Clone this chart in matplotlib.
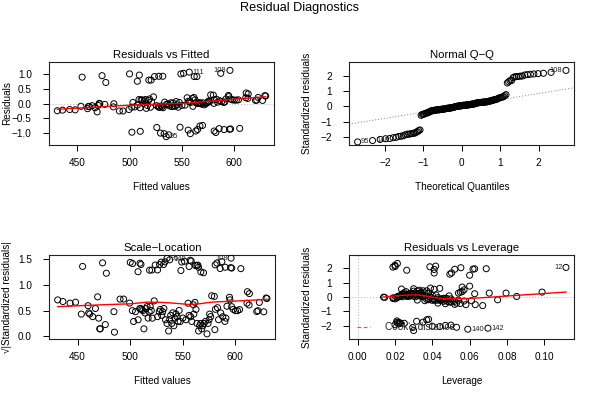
import numpy as np
import matplotlib
matplotlib.use("Agg")
import matplotlib.pyplot as plt
from matplotlib.ticker import FuncFormatter
from statistics import NormalDist

plt.rcParams['font.family'] = ['Liberation Sans', 'DejaVu Sans']

# ---------------- data ----------------
# observations with large positive residuals
upper_fitted = [454.7, 473.7, 477.3, 500.0, 507.4, 509.3, 518.4, 520.6, 523.8, 527.9,
                531.7, 549.0, 551.6, 557.0, 561.8, 564.3, 587.1, 595.9]
upper_resid = [0.90, 0.95, 0.72, 1.01, 0.76, 0.97, 0.80, 0.80, 0.92, 0.93,
               0.93, 1.01, 1.03, 1.07, 0.92, 0.92, 1.03, 1.13]
upper_lev = [0.0263, 0.1116, 0.060, 0.0189, 0.0494, 0.0553, 0.041, 0.0503, 0.0618, 0.0627,
             0.0689, 0.0387, 0.0418, 0.020, 0.041, 0.052, 0.0201, 0.0213]

# observations with large negative residuals
lower_fitted = [502.2, 510.2, 526.0, 529.5, 533.0, 535.0, 537.5, 548.2, 556.0, 558.0,
                563.3, 564.9, 567.2, 569.7, 580.8, 582.4, 585.5, 590.3, 595.5, 596.5, 605.2]
lower_resid = [-0.97, -0.94, -0.81, -1.00, -1.02, -1.12, -1.06, -0.80, -0.90, -1.02,
               -0.93, -0.88, -0.76, -0.74, -0.93, -0.98, -0.85, -0.88, -0.87, -0.86, -0.84]
lower_lev = [0.040, 0.047, 0.0316, 0.053, 0.0295, 0.030, 0.059, 0.021, 0.022, 0.0698,
             0.020, 0.023, 0.037, 0.038, 0.050, 0.044, 0.021, 0.025, 0.0215, 0.0225, 0.035]

# the central band of observations
mid_fitted = [431.0, 436.0, 442.8, 448.0, 453.5, 459.9, 460.5, 461.5, 464.3, 466.9,
              469.0, 470.0, 471.0, 471.5, 476.3, 484.5, 485.0, 490.3, 493.7, 499.4,
              502.0, 503.2, 505.0, 507.5, 509.0, 510.0, 511.0, 512.0, 513.0, 514.0,
              515.0, 516.0, 517.0, 518.0, 519.0, 520.0, 521.0, 522.8, 526.0, 527.6,
              528.5, 530.0, 530.8, 532.0, 533.5, 535.0, 536.5, 537.5, 538.5, 539.5,
              540.5, 541.5, 542.5, 543.5, 544.5, 545.5, 546.5, 547.5, 550.0, 553.0,
              555.0, 556.0, 557.5, 558.5, 560.0, 560.5, 561.5, 562.5, 563.5, 565.0,
              566.0, 567.0, 568.0, 569.0, 570.0, 571.5, 573.0, 574.0, 575.0, 575.5,
              576.5, 577.5, 580.0, 580.5, 581.0, 583.0, 584.0, 586.0, 588.0, 590.0,
              591.0, 592.0, 594.4, 594.8, 596.5, 598.0, 600.0, 602.0, 604.0, 611.4,
              613.3, 611.0, 613.0, 620.3, 621.5, 622.8, 627.0, 629.2, 630.0]
mid_resid = [-0.24, -0.22, -0.20, -0.21, -0.09, -0.17, -0.10, -0.09, -0.07, -0.14,
             -0.28, -0.06, 0.01, -0.01, -0.025, -0.11, -0.003, -0.25, -0.25, -0.20,
             -0.12, 0.04, -0.11, -0.05, 0.14, -0.14, 0.13, 0.12, 0.01, 0.10,
             0.14, -0.16, -0.06, 0.11, 0.16, -0.12, 0.06, 0.23, -0.07, -0.11,
             -0.13, -0.08, -0.11, -0.14, 0.05, -0.03, -0.005, -0.05, -0.08, 0.03,
             -0.10, 0.02, -0.06, -0.09, 0.07, -0.04, -0.12, 0.04, -0.06, -0.05,
             0.20, 0.08, 0.07, 0.04, 0.18, -0.09, 0.21, 0.13, 0.03, 0.005,
             0.02, 0.03, 0.01, -0.02, 0.03, -0.04, 0.001, 0.03, 0.05, 0.09,
             0.07, 0.30, 0.29, 0.008, 0.13, 0.15, 0.05, 0.10, 0.07, 0.04,
             0.06, 0.16, 0.28, 0.24, 0.16, 0.13, 0.12, 0.12, 0.13, 0.36,
             0.33, 0.20, 0.18, 0.11, 0.12, 0.21, 0.11, 0.27, 0.26]
mid_lev = [0.052, 0.047, 0.043, 0.055, 0.038, 0.050, 0.032, 0.045, 0.041, 0.048,
           0.067, 0.020, 0.024, 0.0145, 0.019, 0.044, 0.0139, 0.058, 0.063, 0.053,
           0.036, 0.027, 0.042, 0.019, 0.031, 0.046, 0.029, 0.034, 0.022, 0.025,
           0.036, 0.049, 0.040, 0.028, 0.055, 0.051, 0.023, 0.033, 0.043, 0.047,
           0.057, 0.044, 0.040, 0.052, 0.026, 0.021, 0.039, 0.048, 0.037, 0.030,
           0.054, 0.027, 0.045, 0.075, 0.032, 0.046, 0.061, 0.035, 0.050, 0.038,
           0.030, 0.024, 0.029, 0.033, 0.056, 0.041, 0.037, 0.054, 0.022, 0.035,
           0.0852, 0.026, 0.031, 0.043, 0.028, 0.047, 0.039, 0.023, 0.034, 0.027,
           0.042, 0.039, 0.044, 0.021, 0.0795, 0.025, 0.036, 0.031, 0.027, 0.049,
           0.040, 0.0988, 0.030, 0.057, 0.034, 0.0705, 0.028, 0.033, 0.038, 0.060,
           0.056, 0.032, 0.026, 0.0627, 0.029, 0.035, 0.024, 0.0235, 0.041]

sigma = 0.49  # residual standard error of the model

# labelled cases: label -> (group, position in that group)
case_labels = {"12": ("upper", 1), "111": ("upper", 13), "108": ("upper", 17),
               "95": ("lower", 5), "140": ("lower", 6), "142": ("lower", 9)}

# ---------------- derived quantities ----------------
fitted = np.array(upper_fitted + lower_fitted + mid_fitted)
resid = np.array(upper_resid + lower_resid + mid_resid)
lev = np.array(upper_lev + lower_lev + mid_lev)
offs = {"upper": 0, "lower": len(upper_fitted)}
case_idx = {k: offs[g] + i for k, (g, i) in case_labels.items()}

std = resid / (sigma * np.sqrt(1 - lev))
sl = np.sqrt(np.abs(std))
n = len(std)
order = np.argsort(std)
theo = np.array([NormalDist().inv_cdf((i - 0.5) / n) for i in range(1, n + 1)])
qq_x = np.empty(n)
qq_x[order] = theo


def lowess(x, y, f=2/3, iters=3):
    o = np.argsort(x, kind="mergesort")
    x = np.asarray(x, float)[o]
    y = np.asarray(y, float)[o]
    m = len(x)
    r = int(np.ceil(f * m))
    rob = np.ones(m)
    yest = np.zeros(m)
    for _ in range(iters + 1):
        for i in range(m):
            d = np.abs(x - x[i])
            h = np.sort(d)[r - 1]
            u = np.clip(d / max(h, 1e-12), 0, 1)
            w = (1 - u ** 3) ** 3 * rob
            sw = w.sum()
            xm = (w * x).sum() / sw
            ym = (w * y).sum() / sw
            den = (w * (x - xm) ** 2).sum()
            b = (w * (x - xm) * (y - ym)).sum() / den if den > 1e-12 else 0.0
            yest[i] = ym + b * (x[i] - xm)
        res = y - yest
        s = np.median(np.abs(res))
        if s <= 0:
            break
        u = np.clip(res / (6 * s), -1, 1)
        rob = (1 - u ** 2) ** 2
    return x, yest


def rpad(lo, hi):
    d = (hi - lo) * 0.04
    return lo - d, hi + d


def extend(lo, hi, f=0.08):
    d = (hi - lo) * f
    return lo - d, hi + d


W, H = 600, 400
fig = plt.figure(figsize=(6, 4), dpi=100)
fs_tick = 7.2
fs_lab = 7.2
fs_cap = 8.2
fs_id = 5.4
grey = "#bebebe"


def make_ax(left_px, top_px, right_px, bottom_px):
    ax = fig.add_axes([left_px / W, 1 - bottom_px / H,
                       (right_px - left_px) / W, (bottom_px - top_px) / H])
    for s in ax.spines.values():
        s.set_linewidth(0.8)
        s.set_color("#222222")
    ax.tick_params(direction="out", length=4, width=0.7, labelsize=fs_tick,
                   colors="black")
    ax.tick_params(axis="x", pad=5)
    ax.tick_params(axis="y", pad=8.4)
    return ax


def fmt(dec):
    return FuncFormatter(lambda v, p: (f"{v:.{dec}f}").replace("-", "\u2212"))


def labels(ax, title, xl, yl, ylx=7.0):
    ax.set_title(title, fontsize=fs_cap, pad=3)
    ax.set_xlabel(xl, fontsize=fs_lab)
    ax.set_ylabel(yl, fontsize=fs_lab)
    pos = ax.get_position()
    hpx = pos.height * H
    wpx = pos.width * W
    ax.xaxis.set_label_coords(0.5, -41.7 / hpx)
    ax.xaxis.label.set_va("center")
    ax.yaxis.set_label_coords((ylx - pos.x0 * W) / wpx, 0.5)
    ax.yaxis.label.set_va("center")


def pts(ax, x, y):
    ax.scatter(x, y, s=19, facecolors="none", edgecolors="black", linewidths=0.7,
               zorder=3)


def idtext(ax, x, y, lab, side):
    if side == "right":
        ax.annotate(lab, (x, y), xytext=(2.5, 0), textcoords="offset points",
                    ha="left", va="center", fontsize=fs_id, color="#222222",
                    zorder=4)
    else:
        ax.annotate(lab, (x, y), xytext=(-2.5, 0), textcoords="offset points",
                    ha="right", va="center", fontsize=fs_id, color="#222222",
                    zorder=4)


# ---- Panel 1: Residuals vs Fitted ----
ax1 = make_ax(49, 62, 274, 145)
ax1.axhline(0, color=grey, ls=":", lw=0.8, zorder=1)
pts(ax1, fitted, resid)
lx, ly = lowess(fitted, resid)
ax1.plot(lx, ly, color="red", lw=1, zorder=4)
ax1.set_xlim(*rpad(fitted.min(), fitted.max()))
ax1.set_ylim(*rpad(*extend(resid.min(), resid.max())))
ax1.set_xticks([450, 500, 550, 600])
ax1.set_yticks([-1.0, -0.5, 0.0, 0.5, 1.0])
ax1.yaxis.set_major_formatter(fmt(1))
for lab, side in [("111", "right"), ("108", "left"), ("95", "right")]:
    i = case_idx[lab]
    idtext(ax1, fitted[i], resid[i], lab, side)
labels(ax1, "Residuals vs Fitted", "Fitted values", "Residuals")

# ---- Panel 2: Normal Q-Q ----
ax2 = make_ax(349.3, 62, 574.3, 145)
pts(ax2, qq_x, std)
q1, q3 = np.quantile(std, [0.25, 0.75])
t1, t3 = NormalDist().inv_cdf(0.25), NormalDist().inv_cdf(0.75)
slope = (q3 - q1) / (t3 - t1)
icpt = q1 - slope * t1
ax2.axline((0, icpt), slope=slope, color="#7f7f7f", ls=(0, (1, 2)), lw=0.7, zorder=1)
ax2.set_xlim(*rpad(theo.min(), theo.max()))
ylo, yhi = std.min(), std.max()
ax2.set_ylim(*rpad(ylo, yhi + 0.075 * (yhi - ylo)))
ax2.set_xticks([-2, -1, 0, 1, 2])
ax2.set_yticks([-2, -1, 0, 1, 2])
ax2.xaxis.set_major_formatter(fmt(0))
ax2.yaxis.set_major_formatter(fmt(0))
for lab, side in [("95", "right"), ("140", "right"), ("108", "left")]:
    i = case_idx[lab]
    idtext(ax2, qq_x[i], std[i], lab, side)
labels(ax2, "Normal Q\u2212Q", "Theoretical Quantiles", "Standardized residuals",
       ylx=307.5)

# ---- Panel 3: Scale-Location ----
ax3 = make_ax(49.3, 255, 275.3, 339.3)
pts(ax3, fitted, sl)
lx, ly = lowess(fitted, sl)
ax3.plot(lx, ly, color="red", lw=1, zorder=4)
ax3.set_xlim(*rpad(fitted.min(), fitted.max()))
ax3.set_ylim(*rpad(0, sl.max()))
ax3.set_xticks([450, 500, 550, 600])
ax3.set_yticks([0.0, 0.5, 1.0, 1.5])
ax3.yaxis.set_major_formatter(fmt(1))
for lab, side in [("95", "right"), ("140", "right"), ("108", "left")]:
    i = case_idx[lab]
    idtext(ax3, fitted[i], sl[i], lab, side)
labels(ax3, "Scale\u2212Location", "Fitted values",
       "\u221a|Standardized residuals|", ylx=7.0)

# ---- Panel 4: Residuals vs Leverage ----
ax4 = make_ax(349.3, 255, 574.3, 339)
ax4.axhline(0, color=grey, ls=":", lw=0.8, zorder=1)
ax4.axvline(0, color=grey, ls=":", lw=0.8, zorder=1)
pts(ax4, lev, std)
lx, ly = lowess(lev, std)
ax4.plot(lx, ly, color="red", lw=1, zorder=4)
ax4.set_xlim(*rpad(0, lev.max()))
ax4.set_ylim(*rpad(*extend(std.min(), std.max())))
ax4.set_xticks([0.0, 0.02, 0.04, 0.06, 0.08, 0.10])
ax4.set_yticks([-2, -1, 0, 1, 2])
ax4.xaxis.set_major_formatter(fmt(2))
ax4.yaxis.set_major_formatter(fmt(0))
for lab, side in [("12", "left"), ("140", "right"), ("142", "right")]:
    i = case_idx[lab]
    idtext(ax4, lev[i], std[i], lab, side)
ax4.plot([0.034, 0.092], [0.143, 0.143], transform=ax4.transAxes, color="red",
         ls=(0, (3, 2)), lw=0.9, alpha=0.7, zorder=5)
ax4.text(0.159, 0.143, "Cook's distance", transform=ax4.transAxes, fontsize=fs_lab,
         va="center", ha="left", color="#222222", zorder=5)
labels(ax4, "Residuals vs Leverage", "Leverage", "Standardized residuals",
       ylx=307.5)

fig.text(0.5, 1 - 7.5 / H, "Residual Diagnostics", ha="center", va="center",
         fontsize=9.2)

fig.savefig("out.png", dpi=100)
